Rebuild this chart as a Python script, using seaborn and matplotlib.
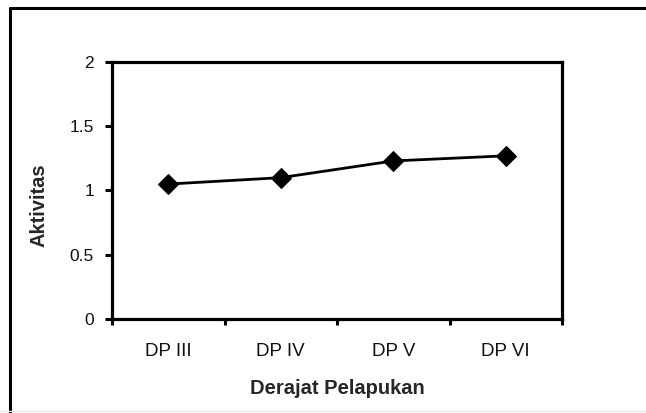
# ==========================================
# Import Libraries
# ==========================================

import numpy as np
import pandas as pd
import matplotlib
matplotlib.use("Agg")
import matplotlib.pyplot as plt
from matplotlib.lines import Line2D
import seaborn as sns

# ==========================================
# Data
# ==========================================

derajat = ["DP III", "DP IV", "DP V", "DP VI"]
aktivitas = [1.05, 1.10, 1.23, 1.27]
y_ticks = [0, 0.5, 1, 1.5, 2]
y_tick_labels = ["0", "0.5", "1", "1.5", "2"]

df = pd.DataFrame({
    "pos": np.arange(len(derajat)),
    "Aktivitas": aktivitas,
})

# ==========================================
# Style
# ==========================================

sns.set_style("white")
plt.rcParams["font.family"] = ["Liberation Sans", "DejaVu Sans"]

fig = plt.figure(figsize=(6.46, 4.13), dpi=100)
ax = fig.add_axes([112 / 646, 1 - 319 / 413, 450 / 646, 257 / 413])

# ==========================================
# Line Plot
# ==========================================

sns.lineplot(
    data=df,
    x="pos",
    y="Aktivitas",
    marker="D",
    markersize=10,
    color="black",
    linewidth=2,
    markeredgecolor="black",
    ax=ax
)

ax.set_xlim(-0.5, len(derajat) - 0.5)
ax.set_ylim(0, 2)

# category boundaries as major ticks, labels on minor ticks
ax.set_xticks(np.arange(len(derajat) + 1) - 0.5)
ax.set_xticklabels([])
ax.set_xticks(np.arange(len(derajat)), minor=True)
ax.set_xticklabels(derajat, minor=True, fontsize=13.5, color="#111111")
ax.tick_params(axis="x", which="major", direction="out", length=4,
               width=2.2, color="black", bottom=True)
ax.tick_params(axis="x", which="minor", length=0, pad=17)

ax.set_yticks(y_ticks)
ax.set_yticklabels(y_tick_labels, fontsize=12.5, color="#111111")
ax.tick_params(axis="y", direction="out", length=5, width=2.2,
               color="black", left=True, pad=8)

for side in ["left", "right", "top", "bottom"]:
    ax.spines[side].set_visible(True)
    ax.spines[side].set_color("black")
    ax.spines[side].set_linewidth(2.3)

ax.set_xlabel("Derajat Pelapukan", fontsize=14.5, fontweight="bold")
ax.set_ylabel("Aktivitas", fontsize=14.5, fontweight="bold")
ax.xaxis.set_label_coords(0.5, (319 - 379) / 257)
ax.yaxis.set_label_coords((49 - 112) / 450, (319 - 205) / 257)

# outer chart frame
fig.add_artist(Line2D([10 / 646, 10 / 646], [0, 1 - 8 / 413],
                      transform=fig.transFigure, color="black", linewidth=2.2))
fig.add_artist(Line2D([10 / 646, 1], [1 - 8 / 413, 1 - 8 / 413],
                      transform=fig.transFigure, color="black", linewidth=2.2))
fig.add_artist(Line2D([0, 1], [2 / 413, 2 / 413],
                      transform=fig.transFigure, color="#e6e6e6", linewidth=1))

fig.savefig("out.png", dpi=100, facecolor="white")
